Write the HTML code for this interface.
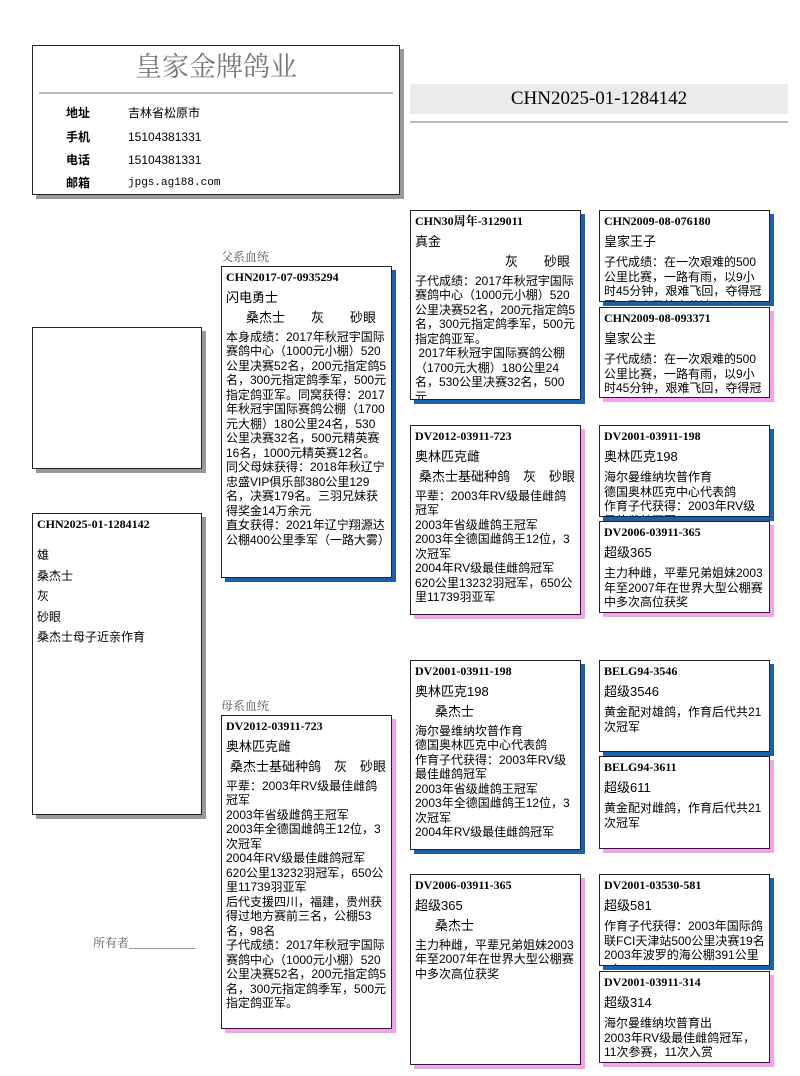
<!DOCTYPE html>
<html><head><meta charset="utf-8">
<style>
*{margin:0;padding:0;box-sizing:border-box}
body{width:800px;height:1076px;background:#fff;position:relative;overflow:hidden;font-family:"Liberation Sans","Noto Sans CJK SC",sans-serif;color:#000}
.b{position:absolute;border:1px solid #222;background:#fff;overflow:hidden;font-size:12px;line-height:14.5px;padding:3px 4px}
.m{box-shadow:4px 4px 0 #1a5fb0}
.f{box-shadow:4px 4px 0 #f5a0f0}
.g{box-shadow:4px 4px 0 #999}
.id{font-weight:bold;font-family:"Liberation Serif","Noto Serif CJK SC",serif;font-size:12px;margin-bottom:6px}
.n{font-size:13px;margin-bottom:6px}
.c{padding-left:20px;margin-bottom:4px;font-size:13px}
.lbl{position:absolute;font-size:12px;color:#555;font-family:"Liberation Serif","Noto Serif CJK SC",serif}
.row{position:absolute;font-size:12px}
</style></head><body>
<div class="b g" style="left:32px;top:45px;width:368px;height:150px;padding:0">
 <div style="position:absolute;left:0;right:0;top:4px;text-align:center;font-size:27px;line-height:34px;color:#777;font-family:'Liberation Serif','Noto Serif CJK SC',serif">皇家金牌鸽业</div>
 <div style="position:absolute;left:6px;right:6px;top:46px;border-top:2px solid #bbb"></div>
 <div class="row" style="left:33px;top:60px;font-weight:bold">地址</div><div class="row" style="left:95px;top:60px">吉林省松原市</div>
 <div class="row" style="left:33px;top:84px;font-weight:bold">手机</div><div class="row" style="left:95px;top:84px">15104381331</div>
 <div class="row" style="left:33px;top:107px;font-weight:bold">电话</div><div class="row" style="left:95px;top:107px">15104381331</div>
 <div class="row" style="left:33px;top:130px;font-weight:bold">邮箱</div><div class="row" style="left:95px;top:130px;font-family:'Liberation Mono',monospace;font-size:11px">jpgs.ag188.com</div>
</div>
<div style="position:absolute;left:410px;top:84px;width:378px;height:30px;background:#ebebeb;text-align:center;font-size:19px;line-height:30px;font-family:'Liberation Serif',serif">CHN2025-01-1284142</div>
<div style="position:absolute;left:410px;top:121px;width:378px;border-top:2px solid #bbb"></div>

<div class="b g" style="left:32px;top:327px;width:170px;height:142px"></div>
<div class="b g" style="left:32px;top:513px;width:170px;height:302px;line-height:20.5px">
<div class="id" style="margin-bottom:14px;line-height:14px">CHN2025-01-1284142</div>
雄<br>桑杰士<br>灰<br>砂眼<br>桑杰士母子近亲作育</div>
<div class="lbl" style="left:93px;top:934px">所有者___________</div>

<div class="lbl" style="left:221px;top:248px">父系血统</div>
<div class="b m" style="left:221px;top:266px;width:171px;height:312px">
<div class="id">CHN2017-07-0935294</div><div class="n">闪电勇士</div><div class="c">桑杰士　　灰　　砂眼</div>
本身成绩：2017年秋冠宇国际赛鸽中心（1000元小棚）520公里决赛52名，200元指定鸽5名，300元指定鸽季军，500元指定鸽亚军。同窝获得：2017年秋冠宇国际赛鸽公棚（1700元大棚）180公里24名，530公里决赛32名，500元精英赛16名，1000元精英赛12名。同父母妹获得：2018年秋辽宁忠盛VIP俱乐部380公里129名，决赛179名。三羽兄妹获得奖金14万余元<br>直女获得：2021年辽宁翔源达公棚400公里季军（一路大雾）</div>

<div class="lbl" style="left:221px;top:697px">母系血统</div>
<div class="b f" style="left:221px;top:715px;width:171px;height:314px">
<div class="id">DV2012-03911-723</div><div class="n">奥林匹克雌</div><div class="c" style="padding-left:4px">桑杰士基础种鸽　灰　砂眼</div>
平辈：2003年RV级最佳雌鸽冠军<br>2003年省级雌鸽王冠军<br>2003年全德国雌鸽王12位，3次冠军<br>2004年RV级最佳雌鸽冠军<br>620公里13232羽冠军，650公里11739羽亚军<br>后代支援四川，福建，贵州获得过地方赛前三名，公棚53名，98名<br>子代成绩：2017年秋冠宇国际赛鸽中心（1000元小棚）520公里决赛52名，200元指定鸽5名，300元指定鸽季军，500元指定鸽亚军。</div>

<div class="b m" style="left:410px;top:210px;width:171px;height:190px">
<div class="id">CHN30周年-3129011</div><div class="n">真金</div><div class="c" style="padding-left:90px">灰　　砂眼</div>
子代成绩：2017年秋冠宇国际赛鸽中心（1000元小棚）520公里决赛52名，200元指定鸽5名，300元指定鸽季军，500元指定鸽亚军。<br>&nbsp;2017年秋冠宇国际赛鸽公棚（1700元大棚）180公里24名，530公里决赛32名，500元</div>
<div class="b f" style="left:410px;top:425px;width:171px;height:190px">
<div class="id">DV2012-03911-723</div><div class="n">奥林匹克雌</div><div class="c" style="padding-left:4px">桑杰士基础种鸽　灰　砂眼</div>
平辈：2003年RV级最佳雌鸽冠军<br>2003年省级雌鸽王冠军<br>2003年全德国雌鸽王12位，3次冠军<br>2004年RV级最佳雌鸽冠军<br>620公里13232羽冠军，650公里11739羽亚军</div>
<div class="b m" style="left:410px;top:660px;width:171px;height:190px">
<div class="id">DV2001-03911-198</div><div class="n">奥林匹克198</div><div class="c">桑杰士</div>
海尔曼维纳坎普作育<br>德国奥林匹克中心代表鸽<br>作育子代获得：2003年RV级最佳雌鸽冠军<br>2003年省级雌鸽王冠军<br>2003年全德国雌鸽王12位，3次冠军<br>2004年RV级最佳雌鸽冠军</div>
<div class="b f" style="left:410px;top:874px;width:171px;height:191px">
<div class="id">DV2006-03911-365</div><div class="n">超级365</div><div class="c">桑杰士</div>
主力种雌，平辈兄弟姐妹2003年至2007年在世界大型公棚赛中多次高位获奖</div>

<div class="b m" style="left:599px;top:210px;width:171px;height:92px"><div class="id">CHN2009-08-076180</div><div class="n">皇家王子</div>子代成绩：在一次艰难的500公里比赛，一路有雨，以9小时45分钟，艰难飞回，夺得冠军，飞出了惊人分速</div>
<div class="b f" style="left:599px;top:307px;width:171px;height:91px"><div class="id">CHN2009-08-093371</div><div class="n">皇家公主</div>子代成绩：在一次艰难的500公里比赛，一路有雨，以9小时45分钟，艰难飞回，夺得冠军，飞出了惊人分速</div>
<div class="b m" style="left:599px;top:425px;width:171px;height:92px"><div class="id">DV2001-03911-198</div><div class="n">奥林匹克198</div>海尔曼维纳坎普作育<br>德国奥林匹克中心代表鸽<br>作育子代获得：2003年RV级最佳雌鸽冠军</div>
<div class="b f" style="left:599px;top:521px;width:171px;height:92px"><div class="id">DV2006-03911-365</div><div class="n">超级365</div>主力种雌，平辈兄弟姐妹2003年至2007年在世界大型公棚赛中多次高位获奖</div>
<div class="b m" style="left:599px;top:660px;width:171px;height:92px"><div class="id">BELG94-3546</div><div class="n">超级3546</div>黄金配对雄鸽，作育后代共21次冠军</div>
<div class="b f" style="left:599px;top:756px;width:171px;height:93px"><div class="id">BELG94-3611</div><div class="n">超级611</div>黄金配对雌鸽，作育后代共21次冠军</div>
<div class="b m" style="left:599px;top:874px;width:171px;height:92px"><div class="id">DV2001-03530-581</div><div class="n">超级581</div>作育子代获得：2003年国际鸽联FCI天津站500公里决赛19名<br>2003年波罗的海公棚391公里9名</div>
<div class="b f" style="left:599px;top:971px;width:171px;height:92px"><div class="id">DV2001-03911-314</div><div class="n">超级314</div>海尔曼维纳坎普育出<br>2003年RV级最佳雌鸽冠军，11次参赛，11次入赏</div>
</body></html>
